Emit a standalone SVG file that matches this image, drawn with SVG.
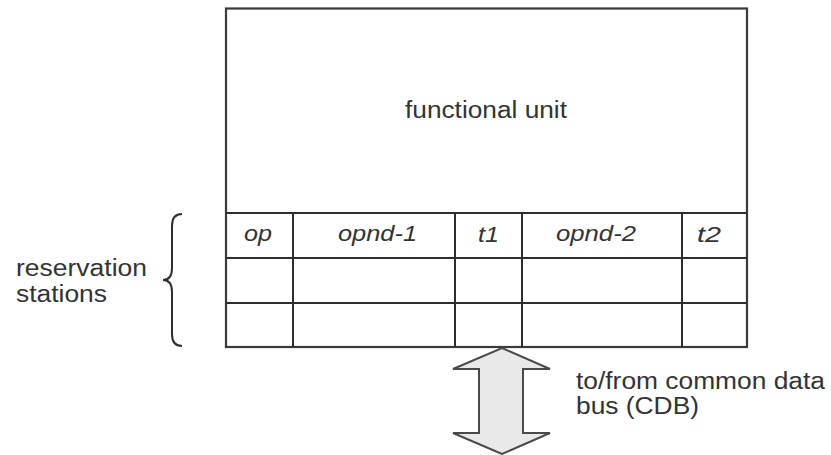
<svg xmlns="http://www.w3.org/2000/svg" width="831" height="455" viewBox="0 0 831 455">
  <style>
    .line { fill: none; stroke: #2e2e2e; stroke-width: 2; }
    .box { fill: #ffffff; stroke: #3a3a3a; stroke-width: 2.2; }
    .label { font-family: "Liberation Sans", Arial, sans-serif; font-size: 23px; fill: #333333; }
    .field { font-family: "Liberation Sans", Arial, sans-serif; font-size: 22px; font-style: italic; fill: #333333; }
    .bus { fill: #e9e9e9; stroke: #4a4a4a; stroke-width: 2; stroke-linejoin: miter; }
  </style>
  <rect width="831" height="455" fill="#ffffff"/>

  <!-- functional unit with its reservation-station table underneath -->
  <g id="functional-unit">
    <rect class="box" x="226" y="8.5" width="521" height="338.5"/>
    <text class="label" x="405" y="118" textLength="162" lengthAdjust="spacingAndGlyphs">functional unit</text>
  </g>

  <g id="reservation-stations">
    <!-- row separators -->
    <line class="line" x1="226" y1="213" x2="747" y2="213"/>
    <line class="line" x1="226" y1="258" x2="747" y2="258"/>
    <line class="line" x1="226" y1="303" x2="747" y2="303"/>
    <!-- column separators -->
    <line class="line" x1="293" y1="213" x2="293" y2="347"/>
    <line class="line" x1="455" y1="213" x2="455" y2="347"/>
    <line class="line" x1="522" y1="213" x2="522" y2="347"/>
    <line class="line" x1="682" y1="213" x2="682" y2="347"/>
    <!-- field headings -->
    <text class="field" x="244" y="241" textLength="28" lengthAdjust="spacingAndGlyphs">op</text>
    <text class="field" x="338" y="241" textLength="79" lengthAdjust="spacingAndGlyphs">opnd-1</text>
    <text class="field" x="478" y="242" textLength="21" lengthAdjust="spacingAndGlyphs">t1</text>
    <text class="field" x="556" y="241" textLength="80" lengthAdjust="spacingAndGlyphs">opnd-2</text>
    <text class="field" x="697" y="242" textLength="24" lengthAdjust="spacingAndGlyphs">t2</text>
  </g>

  <!-- brace grouping the table rows -->
  <g id="stations-label">
    <path class="line" d="M182,214 Q172,214 172,226 L172,268 Q172,280 163,280 Q172,280 172,292 L172,334 Q172,346 182,346"/>
    <text class="label" x="16" y="276" textLength="131" lengthAdjust="spacingAndGlyphs">reservation</text>
    <text class="label" x="16" y="302" textLength="91" lengthAdjust="spacingAndGlyphs">stations</text>
  </g>

  <!-- two-way link to the common data bus -->
  <g id="connectors">
    <polygon class="bus" points="502,348 550,369 523,369 523,433 550,433 502,454 453,433 479,433 479,369 453,369"/>
  </g>

  <g id="cdb-label">
    <text class="label" x="576" y="389" textLength="249" lengthAdjust="spacingAndGlyphs">to/from common data</text>
    <text class="label" x="576" y="414" textLength="123" lengthAdjust="spacingAndGlyphs">bus (CDB)</text>
  </g>
</svg>
